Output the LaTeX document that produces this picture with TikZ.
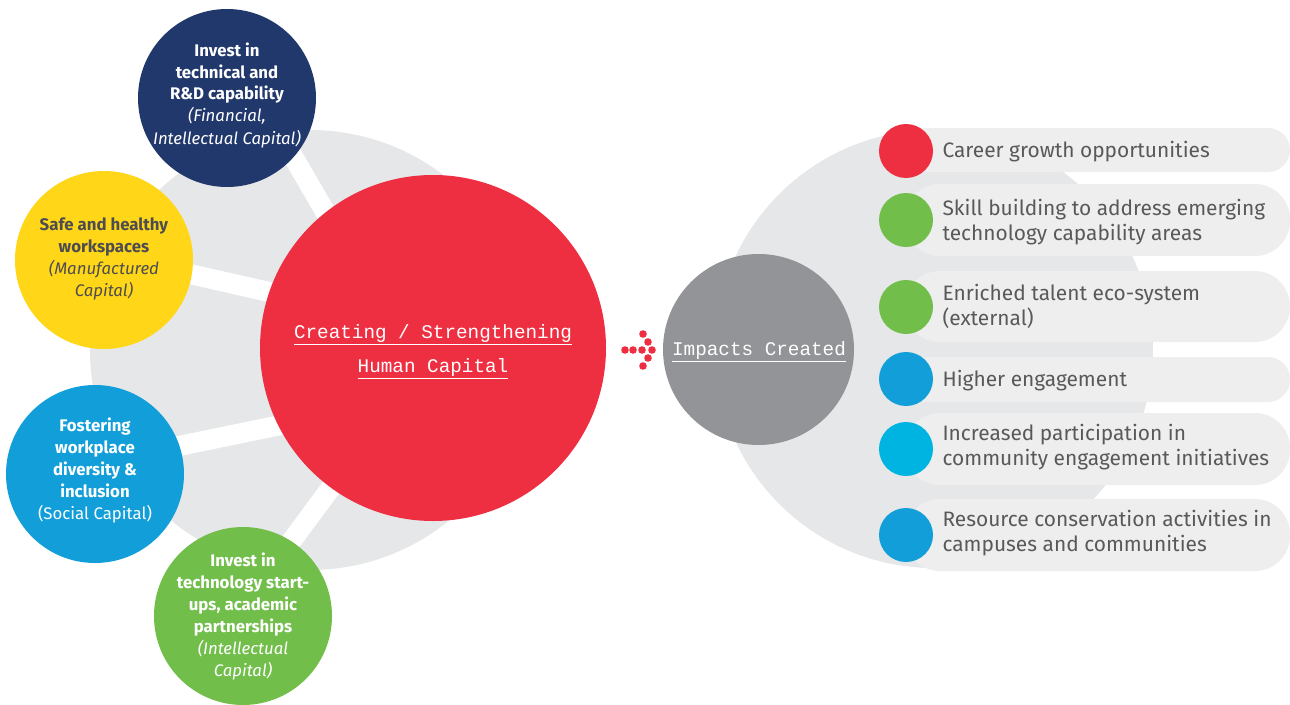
\documentclass[tikz,border=0pt]{standalone}
\usepackage{fontspec}
\setmainfont{Fira Sans}
\newfontfamily\monofont{Liberation Mono}
\definecolor{cred}{HTML}{EE2E41}
\definecolor{cnavy}{HTML}{21386C}
\definecolor{cyellow}{HTML}{FFD618}
\definecolor{cblue}{HTML}{129FD9}
\definecolor{cgreen}{HTML}{72BE4B}
\definecolor{ccyan}{HTML}{00B4E1}
\definecolor{cgrayc}{HTML}{939497}
\definecolor{cbg}{HTML}{E6E7E8}
\definecolor{cpill}{HTML}{EEEEEE}
\definecolor{ctext}{HTML}{58595B}
\definecolor{cdark}{HTML}{4D4D4F}
\tikzset{
  bubble/.style={circle, inner sep=0pt, minimum size=178pt},
  ctxt/.style={align=center, font=\fontsize{16.8}{22}\selectfont},
  monotxt/.style={align=center, text=white, font=\monofont\fontsize{19.3}{34}\selectfont},
  dotbox/.style={circle, fill=#1, inner sep=0pt, minimum size=54pt},
  itemtxt/.style={anchor=west, align=left, text=ctext, font=\fontsize{20.9}{25}\selectfont},
  pill/.style={fill=cpill},
  band/.style={white, line width=20pt},
  arrdot/.style={circle, fill=cred, inner sep=0pt, minimum size=7.6pt}
}
\begin{document}
\begin{tikzpicture}[x=1pt,y=-1pt]
\useasboundingbox (0,0) rectangle (1290,704);
% right background
\fill[cbg] (934,349) circle (219pt);
% pills
\fill[pill, rounded corners=22pt] (905,128) rectangle (1290,172);
\fill[pill, rounded corners=35pt] (905,184) rectangle (1290,256);
\fill[pill, rounded corners=35pt] (905,271) rectangle (1290,342);
\fill[pill, rounded corners=22pt] (905,357) rectangle (1290,402);
\fill[pill, rounded corners=35pt] (905,413) rectangle (1290,485);
\fill[pill, rounded corners=35pt] (905,499) rectangle (1290,571);
% left background
\fill[cbg] (310,350) circle (220pt);
\coordinate (b1a) at (262,103); \coordinate (b1b) at (345,246);
\coordinate (b2a) at (150,265); \coordinate (b2b) at (300,299);
\coordinate (b3a) at (140,454); \coordinate (b3b) at (310,419);
\coordinate (b4a) at (270,570); \coordinate (b4b) at (350,462);
\draw[band] (b1a) -- (b1b);
\draw[band] (b2a) -- (b2b);
\draw[band] (b3a) -- (b3b);
\draw[band] (b4a) -- (b4b);
% left bubbles
\node[bubble, fill=cnavy] (navy) at (227,98) {};
\node[bubble, fill=cyellow] (yellow) at (104,260) {};
\node[bubble, fill=cblue] (blue) at (95,474) {};
\node[bubble, fill=cgreen] (green) at (243,616) {};
\node[circle, inner sep=0pt, minimum size=346pt, fill=cred] (core) at (433,348) {};
\node[circle, inner sep=0pt, minimum size=191pt, fill=cgrayc] (impacts) at (758.5,349.5) {};
% texts in bubbles
\node[ctxt, text=white] (navyt) at (227,95) {\textbf{Invest in}\\\textbf{technical and}\\\textbf{R\&D capability}\\\textit{(Financial,}\\\textit{Intellectual Capital)}};
\node[ctxt, text=cdark] (yellowt) at (104,259) {\textbf{Safe and healthy}\\\textbf{workspaces}\\\textit{(Manufactured}\\\textit{Capital)}};
\node[ctxt, text=white] (bluet) at (95,470) {\textbf{Fostering}\\\textbf{workplace}\\\textbf{diversity \&}\\\textbf{inclusion}\\(Social Capital)};
\node[ctxt, text=white] (greent) at (243,616) {\textbf{Invest in}\\\textbf{technology start-}\\\textbf{ups, academic}\\\textbf{partnerships}\\\textit{(Intellectual}\\\textit{Capital)}};
\node[monotxt] (coret) at (433,352) {\underline{Creating / Strengthening}\\\underline{Human Capital}};
\node[monotxt] (impt) at (759,352) {\underline{Impacts Created}};
% arrow of dots
\node[arrdot] (d1) at (643,334) {};
\node[arrdot] (d2) at (648,342) {};
\node[arrdot] (d3) at (625,350) {};
\node[arrdot] (d4) at (633,350) {};
\node[arrdot] (d5) at (642,350) {};
\node[arrdot] (d6) at (652,350) {};
\node[arrdot] (d7) at (648,358) {};
\node[arrdot] (d8) at (643,366) {};
% item dots
\node[dotbox=cred] (i1) at (906,151) {};
\node[dotbox=cgreen] (i2) at (906,220) {};
\node[dotbox=cgreen] (i3) at (906,307) {};
\node[dotbox=cblue] (i4) at (906,379) {};
\node[dotbox=ccyan] (i5) at (906,449) {};
\node[dotbox=cblue] (i6) at (906,535) {};
% item texts
\node[itemtxt] (t1) at (939,152) {Career growth opportunities};
\node[itemtxt] (t2) at (939,222) {Skill building to address emerging\\technology capability areas};
\node[itemtxt] (t3) at (939,306.5) {Enriched talent eco-system\\(external)};
\node[itemtxt] (t4) at (939,381) {Higher engagement};
\node[itemtxt] (t5) at (939,447.5) {Increased participation in\\community engagement initiatives};
\node[itemtxt] (t6) at (939,533.5) {Resource conservation activities in\\campuses and communities};
\end{tikzpicture}
\end{document}
